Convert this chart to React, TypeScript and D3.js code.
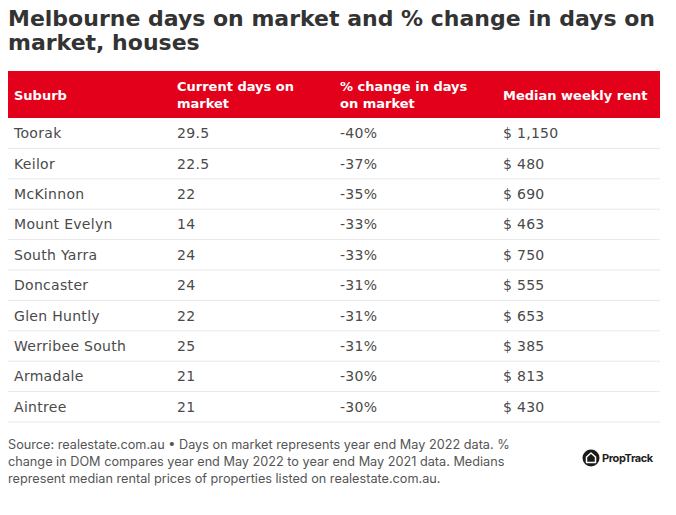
import React from "react";
import * as d3 from "d3";

const titleLines = ["Melbourne days on market and % change in days on", "market, houses"];
const headers = [["Suburb"], ["Current days on", "market"], ["% change in days", "on market"], ["Median weekly rent"]];
const suburbs = ["Toorak", "Keilor", "McKinnon", "Mount Evelyn", "South Yarra", "Doncaster", "Glen Huntly", "Werribee South", "Armadale", "Aintree"];
const daysOnMarket = ["29.5", "22.5", "22", "14", "24", "24", "22", "25", "21", "21"];
const pctChange = ["-40%", "-37%", "-35%", "-33%", "-33%", "-31%", "-31%", "-31%", "-30%", "-30%"];
const medianRent = ["$ 1,150", "$ 480", "$ 690", "$ 463", "$ 750", "$ 555", "$ 653", "$ 385", "$ 813", "$ 430"];
const footerLines = [
  "Source: realestate.com.au \u2022 Days on market represents year end May 2022 data. %",
  "change in DOM compares year end May 2022 to year end May 2021 data. Medians",
  "represent median rental prices of properties listed on realestate.com.au.",
];

const W = 676, H = 515;
const FONT = "'DejaVu Sans', sans-serif";
const FONT2 = "Inter, sans-serif";
const RED = "#e3001b";
const TEXT = "#4a4a4a";

export default function App() {
  const tableLeft = 8, tableRight = 660;
  const headerTop = 71, headerBottom = 118, tableBottom = 422;
  const cols = d3.scaleBand<number>().domain([0, 1, 2, 3]).range([tableLeft, tableRight + 0]);
  const rows = d3.scaleBand<string>().domain(suburbs).range([headerBottom, tableBottom]);
  const rowData = suburbs.map((s, i) => [s, daysOnMarket[i], pctChange[i], medianRent[i]]);
  const pad = 6;
  return (
    <svg width={W} height={H} style={{ position: "absolute", left: 0, top: 0, background: "#fff" }}>
      <rect width={W} height={H} fill="#fff" />
      {titleLines.map((t, i) => (
        <text key={i} x={8} y={26 + i * 24} fontFamily={FONT} fontWeight={700} fontSize={22} fill="#333">{t}</text>
      ))}
      <rect x={tableLeft} y={headerTop} width={tableRight - tableLeft} height={headerBottom - headerTop} fill={RED} />
      {headers.map((h, i) => (
        <text key={i} fontFamily={FONT} fontWeight={700} fontSize={13} fill="#fff">
          {h.map((line, j) => (
            <tspan key={j} x={cols(i)! + pad} y={(h.length === 1 ? 100 : 91) + j * 17}>{line}</tspan>
          ))}
        </text>
      ))}
      {rowData.map((r, i) => {
        const y0 = rows(suburbs[i])!;
        const bw = rows.bandwidth();
        return (
          <g key={i}>
            {r.map((v, c) => (
              <text key={c} x={cols(c)! + pad} y={y0 + bw / 2 + 5} fontFamily={FONT} fontSize={14} letterSpacing={0.3} fill={TEXT}>{v}</text>
            ))}
            <line x1={tableLeft} x2={tableRight} y1={y0 + bw} y2={y0 + bw} stroke="#e8e8e8" strokeWidth={1} />
          </g>
        );
      })}
      {footerLines.map((t, i) => (
        <text key={i} x={8} y={449 + i * 17} fontFamily={FONT2} fontSize={12.7} fill="#555">{t}</text>
      ))}
      <g transform="translate(591,458)">
        <circle r={8.5} fill="#1a1a1a" />
        <path d="M0,-5 L4.5,-1 L4.5,4.5 L-4.5,4.5 L-4.5,-1 Z" fill="none" stroke="#fff" strokeWidth={1.5} strokeLinejoin="round" />
        <text x={11} y={4} fontFamily={FONT2} fontWeight={700} fontSize={11} fill="#222" letterSpacing={-0.4}>PropTrack</text>
      </g>
    </svg>
  );
}
